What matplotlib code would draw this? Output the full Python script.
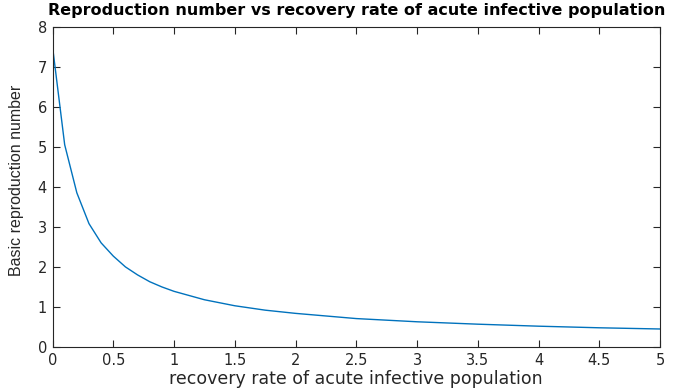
import matplotlib
matplotlib.use('Agg')
import matplotlib.pyplot as plt

# recovery rate vs basic reproduction number
rates = [0.0, 0.1, 0.2, 0.3, 0.4, 0.5, 0.6, 0.7, 0.8, 0.9, 1.0,
         1.25, 1.5, 1.75, 2.0, 2.5, 3.0, 3.5, 4.0, 4.5, 5.0]
r0 = [7.5, 5.05, 3.85, 3.08, 2.6, 2.27, 2.0, 1.8, 1.63, 1.5, 1.39,
      1.18, 1.03, 0.92, 0.84, 0.71, 0.63, 0.57, 0.52, 0.48, 0.45]

xticks = [0, 0.5, 1, 1.5, 2, 2.5, 3, 3.5, 4, 4.5, 5]
xticklabels = ['0', '0.5', '1', '1.5', '2', '2.5', '3', '3.5', '4', '4.5', '5']
yticks = [0, 1, 2, 3, 4, 5, 6, 7, 8]

plt.rcParams['font.family'] = ['DejaVu Sans']
axcol = '#262626'

fig = plt.figure(figsize=(6.84, 3.91), dpi=100)
ax = fig.add_axes([0.0768, 0.1125, 0.8882, 0.8195])
ax.plot(rates, r0, color='#0072BD', lw=1.0)

ax.set_xlim(0, 5)
ax.set_ylim(0, 8)
ax.set_xticks(xticks)
ax.set_xticklabels(xticklabels)
ax.set_yticks(yticks)
ax.tick_params(direction='in', top=True, right=True, length=5, width=0.8,
               colors=axcol, labelsize=10.5, pad=4)
for s in ax.spines.values():
    s.set_color(axcol)
    s.set_linewidth(0.8)

ax.set_title('Reproduction number vs recovery rate of acute infective population',
             fontsize=11.5, fontweight='bold', color='black', pad=8)
ax.set_xlabel('recovery rate of acute infective population', fontsize=12.5,
              color=axcol, labelpad=2)
ax.set_ylabel('Basic reproduction number', fontsize=11.5, color=axcol,
              family=['Liberation Sans', 'DejaVu Sans'])
ax.yaxis.set_label_coords(-0.047, 0.521)

fig.savefig('out.png', dpi=100)
